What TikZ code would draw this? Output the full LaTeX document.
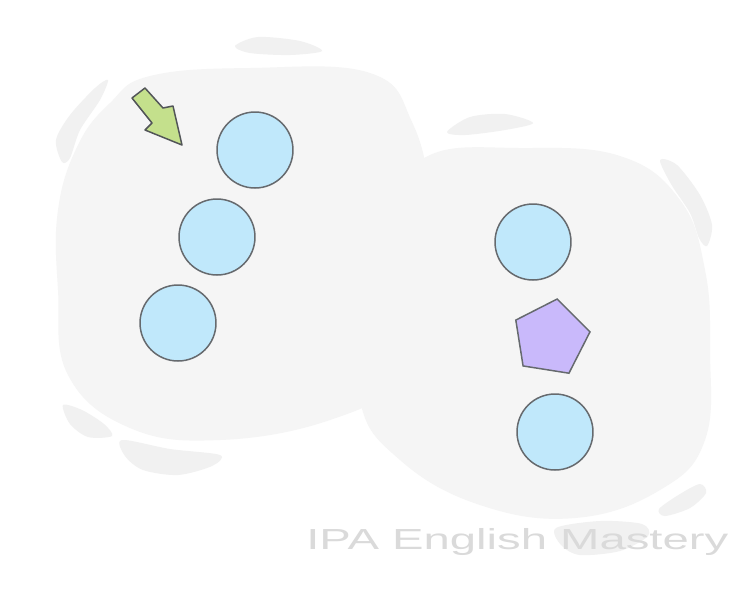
\documentclass[tikz,border=0pt]{standalone}
\usepackage{fontspec}
\setsansfont{Liberation Sans}
\usepackage{xcolor}
\usepackage{tikz}
\usetikzlibrary{shapes.geometric}

\definecolor{blobgray}{HTML}{F5F5F5}
\definecolor{markgray}{HTML}{F1F1F1}
\definecolor{ballblue}{HTML}{C0E8FB}
\definecolor{penviolet}{HTML}{C9B9FB}
\definecolor{arrowgreen}{HTML}{C4E08C}
\definecolor{edgegray}{HTML}{666A6E}
\definecolor{markcolor}{HTML}{DADADA}

\begin{document}
\begin{tikzpicture}[x=0.02cm, y=-0.02cm,
    ball/.style={circle, draw=edgegray, fill=ballblue, line width=0.85pt, minimum size=1.52cm, inner sep=0pt},
    odd/.style={regular polygon, regular polygon sides=5, draw=edgegray, fill=penviolet, line width=0.85pt, minimum size=1.58cm, inner sep=0pt, shape border rotate=-9},
    smudge/.style={fill=markgray, draw=none}]
  \useasboundingbox[fill=white] (0,0) rectangle (750,600);

  % soft background blobs
  \fill[blobgray] plot[smooth cycle, tension=0.7] coordinates {(110,103) (150,76) (250,68) (370,73) (412,122) (430,200) (430,300) (402,378) (330,420) (220,440) (130,428) (68,375) (58,290) (58,210) (78,145)};
  \fill[blobgray] plot[smooth cycle, tension=0.7] coordinates {(430,155) (520,148) (620,156) (680,200) (705,270) (710,350) (705,440) (660,490) (575,518) (480,505) (400,460) (360,400) (368,300) (398,205)};

  % little strokes round the blobs
  \fill[smudge] plot[smooth cycle] coordinates {(235,46) (258,37) (300,41) (322,51) (290,55) (250,53)};
  \fill[smudge] plot[smooth cycle] coordinates {(447,132) (470,117) (505,114) (533,123) (505,130) (465,135)};
  \fill[smudge] plot[smooth cycle] coordinates {(108,80) (95,88) (70,115) (56,140) (62,162) (70,158) (80,130) (100,100)};
  \fill[smudge] plot[smooth cycle] coordinates {(660,160) (677,165) (700,195) (712,225) (707,246) (699,238) (690,213) (671,184)};
  \fill[smudge] plot[smooth cycle] coordinates {(63,405) (82,410) (104,424) (112,436) (88,437) (70,424)};
  \fill[smudge] plot[smooth cycle] coordinates {(122,440) (170,449) (220,455) (212,466) (178,475) (143,470) (125,456)};
  \fill[smudge] plot[smooth cycle] coordinates {(700,484) (706,493) (690,508) (665,516) (659,509) (680,494)};
  \fill[smudge] plot[smooth cycle] coordinates {(556,528) (600,521) (642,524) (648,536) (620,551) (580,555) (561,545)};

  % pointer
  \draw[fill=arrowgreen, draw=edgegray!80!black, line width=0.85pt, line join=round]
    (145,88) -- (163,108) -- (173,106) -- (182,145) -- (145,130) -- (152,123) -- (132,98) -- cycle;

  % left group
  \node[ball] (l1) at (255,150) {};
  \node[ball] (l2) at (217,237) {};
  \node[ball] (l3) at (178,323) {};

  % right group
  \node[ball] (r1) at (533,242) {};
  \node[odd] (r2) at (551,338) {};
  \node[ball] (r3) at (555,432) {};

  \node[anchor=base west, inner sep=0pt, text=markcolor, font=\sffamily\fontsize{16.5}{16.5}\selectfont] (mark) at (306,549) {\scalebox{1.63}[1]{IPA English Mastery}};
\end{tikzpicture}
\end{document}
